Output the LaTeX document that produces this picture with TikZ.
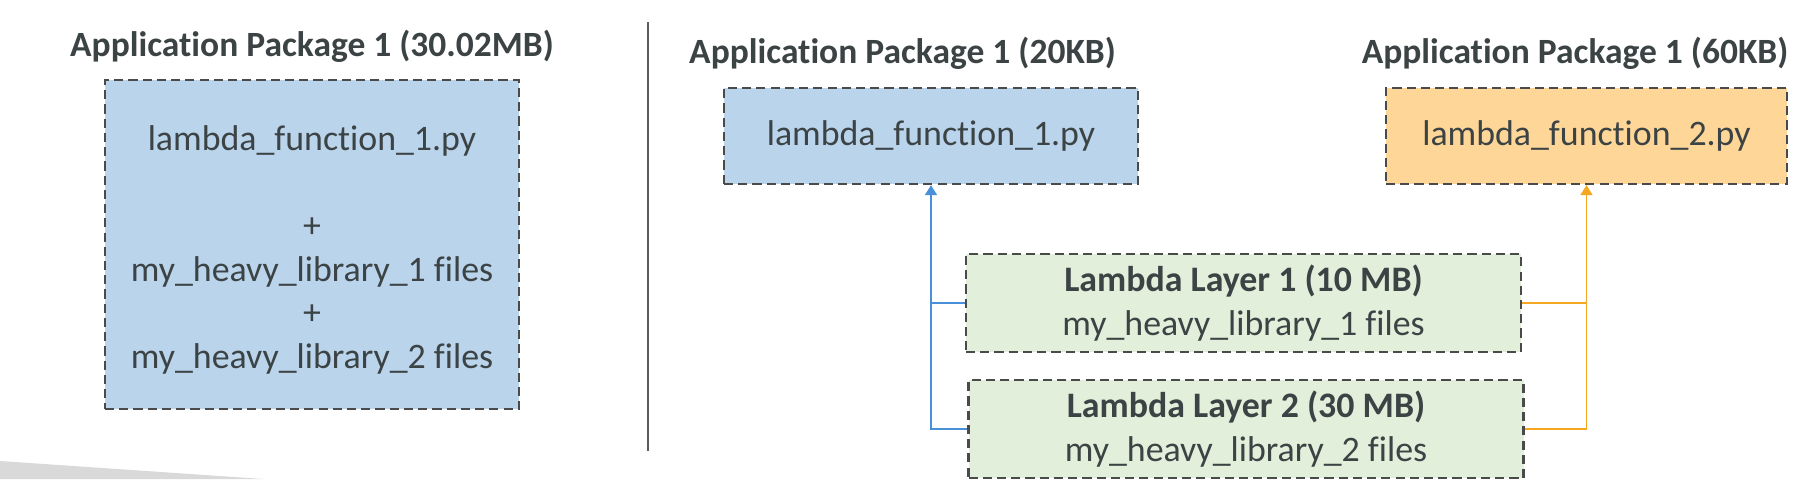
\documentclass[tikz,border=0pt]{standalone}
\usepackage{fontspec}
\setmainfont{Carlito}[Ligatures=NoCommon]
\usetikzlibrary{arrows.meta, positioning}
\definecolor{TextGrey}   {RGB}{ 60,  67,  69}
\definecolor{BorderGrey} {RGB}{ 74,  74,  74}
\definecolor{PkgBlue}    {RGB}{186, 212, 236}
\definecolor{PkgOrange}  {RGB}{254, 215, 152}
\definecolor{LayerGreen} {RGB}{226, 239, 218}
\definecolor{LinkBlue}   {RGB}{ 74, 144, 217}
\definecolor{LinkOrange} {RGB}{245, 166,  35}
\definecolor{ShadeGrey}  {RGB}{217, 217, 217}
\newcommand{\boxfont}{\fontsize{10.2}{12.35}\selectfont}
\newcommand{\headfont}{\fontsize{10.1}{12.2}\selectfont\bfseries}
\tikzset{
  % package box (dashed border)
  pkgbox/.style={
    rectangle, draw=BorderGrey, line width=0.65pt,
    dash pattern=on 2.6pt off 1.45pt,
    text=TextGrey, font=\boxfont,
    inner sep=2pt, align=center
  },
  % layer box
  layerbox/.style={
    pkgbox, fill=LayerGreen,
    minimum width=5.55cm, minimum height=0.98cm
  },
  % heading above a package
  headtext/.style={
    text=TextGrey, font=\headfont, inner sep=0pt
  },
  % layer -> package links
  bluelink/.style={
    -{Triangle[width=1.2mm, length=1.0mm]}, line width=0.45pt, color=LinkBlue
  },
  orangelink/.style={
    -{Triangle[width=1.2mm, length=1.0mm]}, line width=0.45pt, color=LinkOrange
  },
  % vertical divider
  divider/.style={
    line width=0.5pt, color=BorderGrey!90
  }
}

\begin{document}
\begin{tikzpicture}

  % ── Canvas ───────────────────────────────────────────────────────────────
  \fill[white] (0,0) rectangle (17.99,4.79);
  \useasboundingbox (0,0) rectangle (17.99,4.79);

  % grey strip, bottom left
  \fill[ShadeGrey] (0,0.18) -- (2.63,0) -- (0,0) -- cycle;

  % ── Without layers: one big package ──────────────────────────────────────
  \node[pkgbox, fill=PkgBlue, minimum width=4.14cm, minimum height=3.29cm]
        (fatpkg) at (3.12,2.345)
        {\rule{0pt}{1em}lambda\_function\_1.py\\[4.35mm]+\\my\_heavy\_library\_1 files\\+\\my\_heavy\_library\_2 files};
  \node[headtext] (fathead) at (3.12,4.33) {Application Package 1 (30.02MB)};

  % divider
  \coordinate (divtop) at (6.48,4.57);
  \coordinate (divbot) at (6.48,0.28);
  \draw[divider] (divtop) -- (divbot);

  % ── With layers: two small packages ──────────────────────────────────────
  \node[pkgbox, fill=PkgBlue, minimum width=4.14cm, minimum height=0.96cm]
        (pkgone) at (9.31,3.43) {lambda\_function\_1.py};
  \node[pkgbox, fill=PkgOrange, minimum width=4.01cm, minimum height=0.96cm]
        (pkgtwo) at (15.865,3.43) {lambda\_function\_2.py};
  \node[headtext] (headone) at (9.025,4.26) {Application Package 1 (20KB)};
  \node[headtext] (headtwo) at (15.75,4.26) {Application Package 1 (60KB)};

  % ── Layers ───────────────────────────────────────────────────────────────
  \node[layerbox] (layerone) at (12.435,1.76)
        {\textbf{Lambda Layer 1 (10 MB)}\\my\_heavy\_library\_1 files};
  \node[layerbox, below=0.26cm of layerone, xshift=0.025cm] (layertwo)
        {\textbf{Lambda Layer 2 (30 MB)}\\my\_heavy\_library\_2 files};

  % ── Links from layers to packages ────────────────────────────────────────
  \draw[bluelink] (layertwo.west) -| (pkgone.south);
  \draw[bluelink, -] (layerone.west) -- (layerone.west -| pkgone.south);
  \draw[orangelink] (layertwo.east) -| (pkgtwo.south);
  \draw[orangelink, -] (layerone.east) -- (layerone.east -| pkgtwo.south);

\end{tikzpicture}
\end{document}
